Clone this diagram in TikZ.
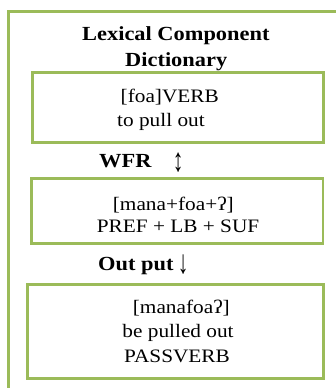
\documentclass[tikz,border=0pt]{standalone}
\usepackage{fontspec}
\setmainfont{Liberation Serif}[FakeStretch=1.12]
\definecolor{boxgreen}{HTML}{9BBB59}
\begin{document}
\begin{tikzpicture}[x=1bp,y=-1bp,
  greenbox/.style={draw=boxgreen,line width=2.6bp,fill=white,rectangle,inner sep=0pt},
  txt/.style={anchor=base west,inner sep=0pt,font=\fontsize{19bp}{23bp}\selectfont},
  btxt/.style={anchor=base west,inner sep=0pt,font=\fontsize{20bp}{24bp}\selectfont\bfseries},
  arr/.style={anchor=center,inner sep=0pt,font=\fontsize{19bp}{23bp}\selectfont}]
\useasboundingbox (0,0) rectangle (336,388);
% outer frame (continues beyond the picture)
\coordinate (fa) at (8.5,390);
\coordinate (fb) at (8.5,11.5);
\coordinate (fc) at (338,11.5);
\draw[boxgreen,line width=2.6bp] (fa) -- (fb) -- (fc);
% boxes
\node[greenbox,minimum width=291bp,minimum height=70bp] (box1) at (177.8,107.7) {};
\node[greenbox,minimum width=291.3bp,minimum height=65bp] (box2) at (177.4,210.8) {};
\node[greenbox,minimum width=295.6bp,minimum height=94bp] (box3) at (175.5,331.3) {};
% title
\node[btxt] (t1) at (82,40.7) {Lexical Component};
\node[btxt] (t2) at (125,66.7) {Dictionary};
% box 1
\node[txt] (b1a) at (120.5,102.7) {[foa]VERB};
\node[txt] (b1b) at (117,126) {to pull out};
% WFR
\node[btxt] (wfr) at (99,167.7) {WFR};
\node[arr] (wfrarrow) at (178.3,162.2) {\scalebox{1}[1.75]{↕}};
% box 2
\node[txt] (b2a) at (112.7,210) {[mana+foa+ʔ]};
\node[txt] (b2b) at (96.7,232.3) {PREF + LB + SUF};
% Output
\node[btxt] (out) at (98,270.7) {Out put};
\node[arr] (outarrow) at (183.3,264.2) {\scalebox{1}[1.75]{↓}};
% box 3
\node[txt] (b3a) at (132.7,313) {[manafoaʔ]};
\node[txt] (b3b) at (122.3,337.3) {be pulled out};
\node[txt] (b3c) at (124,362.7) {PASSVERB};
\end{tikzpicture}
\end{document}
